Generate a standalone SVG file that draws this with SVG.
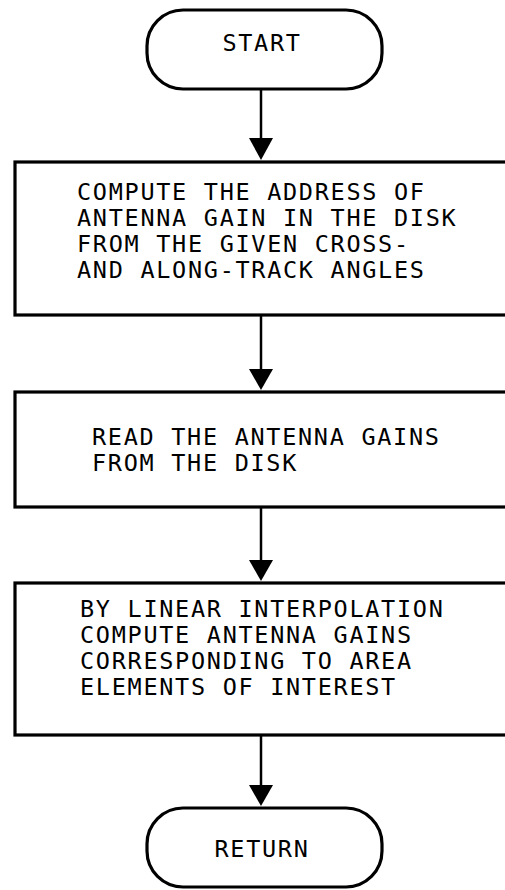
<svg xmlns="http://www.w3.org/2000/svg" width="505" height="890" viewBox="0 0 505 890">
<style>
.shape{fill:#fff;stroke:#000;stroke-width:3.2}
.t{font-family:"DejaVu Sans Mono",monospace;font-size:23.5px;letter-spacing:1.7px;fill:#000}
.c{text-anchor:middle}
.edge{stroke:#000;stroke-width:2.5;fill:none}
.head{fill:#000}
</style>
<rect width="505" height="890" fill="#fff"/>
<g id="connectors">
<line class="edge" x1="261" y1="89" x2="261" y2="138"/>
<polygon class="head" points="249,138 273,138 261,160"/>
<line class="edge" x1="261" y1="315" x2="261" y2="369"/>
<polygon class="head" points="249,369 273,369 261,390"/>
<line class="edge" x1="261" y1="507" x2="261" y2="560"/>
<polygon class="head" points="249,560 273,560 261,581"/>
<line class="edge" x1="261" y1="735" x2="261" y2="785"/>
<polygon class="head" points="249,785 273,785 261,806"/>
</g>
<g id="start">
<rect class="shape" x="147" y="10" width="235" height="79" rx="36" ry="36"/>
<text class="t c" x="262" y="51">START</text>
</g>
<g id="compute-address">
<rect class="shape" x="15" y="162" width="510" height="153"/>
<text class="t" x="77" y="200">COMPUTE THE ADDRESS OF</text>
<text class="t" x="77" y="226">ANTENNA GAIN IN THE DISK</text>
<text class="t" x="77" y="252">FROM THE GIVEN CROSS-</text>
<text class="t" x="77" y="278">AND ALONG-TRACK ANGLES</text>
</g>
<g id="read-gains">
<rect class="shape" x="15" y="392" width="510" height="115"/>
<text class="t" x="92" y="445">READ THE ANTENNA GAINS</text>
<text class="t" x="92" y="471">FROM THE DISK</text>
</g>
<g id="interpolate">
<rect class="shape" x="15" y="583" width="510" height="152"/>
<text class="t" x="80" y="617">BY LINEAR INTERPOLATION</text>
<text class="t" x="80" y="643">COMPUTE ANTENNA GAINS</text>
<text class="t" x="80" y="669">CORRESPONDING TO AREA</text>
<text class="t" x="80" y="695">ELEMENTS OF INTEREST</text>
</g>
<g id="return">
<rect class="shape" x="147" y="808" width="235" height="79" rx="36" ry="36"/>
<text class="t c" x="262" y="857">RETURN</text>
</g>
</svg>
